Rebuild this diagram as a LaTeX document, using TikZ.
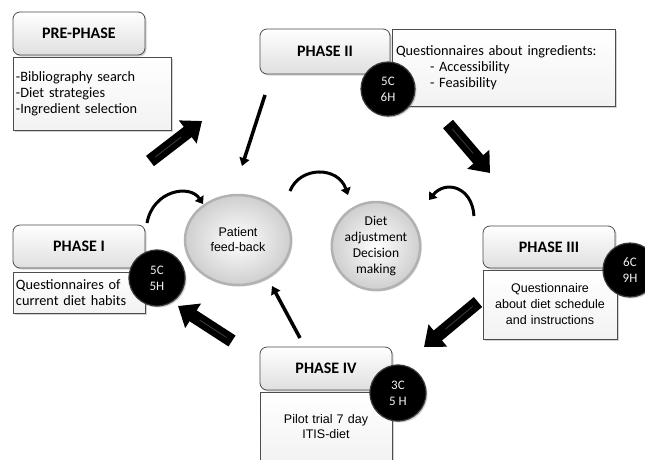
\documentclass[tikz,border=0pt]{standalone}
\usepackage{fontspec}
\setmainfont{Carlito}
\newfontfamily\arialf{Liberation Sans}
\usetikzlibrary{shapes.geometric,arrows.meta,shadows,calc}
\tikzset{
  header/.style={draw=gray!60!black, line width=0.8pt, rounded corners=7pt,
    top color=white, bottom color=gray!25, minimum width=132pt, minimum height=43pt,
    inner sep=0pt, font=\fontsize{16}{19}\selectfont\bfseries,
    drop shadow={opacity=0.35, shadow xshift=1.5pt, shadow yshift=-1.5pt}},
  bodybox/.style={draw=gray!60!black, line width=0.8pt, top color=white, bottom color=gray!10,
    inner sep=0pt, font=\fontsize{14.3}{16}\selectfont,
    drop shadow={opacity=0.35, shadow xshift=2pt, shadow yshift=-2pt}},
  badge/.style={circle, fill=black, draw=gray!45!black, line width=1.2pt, minimum size=54pt,
    inner sep=0pt, text=gray!10, align=center, font=\fontsize{13}{16}\selectfont,
    drop shadow={opacity=0.35, shadow xshift=1.5pt, shadow yshift=-1.5pt}},
  hub/.style={ellipse, draw=gray!60, line width=2.5pt, inner color=white, outer color=gray!38,
    inner sep=0pt, align=center,
    drop shadow={opacity=0.3, shadow xshift=1.5pt, shadow yshift=-1.5pt}},
  bigarrow/.style={line width=13pt, -{Triangle[length=18pt,width=28pt]}},
  shine/.style={gray!40!black, line width=1pt},
  thinarrow/.style={line width=3.5pt, -{Triangle[length=8pt,width=10pt]}},
  curvearrow/.style={line width=3pt, -{Triangle[length=7pt,width=10pt]}}
}
\begin{document}
\begin{tikzpicture}[x=1pt,y=-1pt]
\useasboundingbox (0,0) rectangle (645,459);
\clip (0,0) rectangle (645,459);
\fill[white] (0,0) rectangle (645,459);

% PRE-PHASE
\node[header] (preh) at (79,33.5) {PRE-PHASE};
\node[bodybox, minimum width=158pt, minimum height=73pt, text width=152pt, align=left] (preb) at (92,93.5)
  {-Bibliography search\\-Diet strategies\\-Ingredient selection};

% PHASE II
\node[header, minimum width=130pt, minimum height=45pt] (p2h) at (325,51.5) {PHASE II};
\node[bodybox, minimum width=223pt, minimum height=77pt, text width=215pt, align=left] (p2b) at (503.5,67.5)
  {Questionnaires about ingredients:\\\hspace*{34pt}- Accessibility\\\hspace*{34pt}- Feasibility};
\node[badge] (p2c) at (388,89) {5C\\6H};

% PHASE I
\node[header] (p1h) at (79,246.5) {PHASE I};
\node[bodybox, minimum width=132pt, minimum height=41pt, text width=126pt, align=left] (p1b) at (79,292.5)
  {Questionnaires of\\current diet habits};
\node[badge, minimum size=56pt] (p1c) at (157,278) {5C\\5H};

% PHASE III
\node[header, minimum height=42pt] (p3h) at (549,247) {PHASE III};
\node[bodybox, minimum width=134pt, minimum height=69pt, text width=130pt, align=center,
  font=\arialf\fontsize{12.5}{16}\selectfont] (p3b) at (550,304.5)
  {Questionnaire\\about diet schedule\\and instructions};
\node[badge] (p3c) at (630,270) {6C\\9H};

% PHASE IV
\node[header] (p4h) at (326,368.5) {PHASE IV};
\node[bodybox, minimum width=132pt, minimum height=70pt, text width=128pt, align=center,
  font=\arialf\fontsize{12.5}{15}\selectfont] (p4b) at (326,427)
  {Pilot trial 7 day\\ITIS-diet};
\node[badge, minimum size=56pt] (p4c) at (398,393) {3C\\5 H};

% hubs
\node[hub, minimum width=106pt, minimum height=90pt, font=\arialf\fontsize{12.5}{15}\selectfont] (pat) at (238,240)
  {Patient\\feed-back};
\node[hub, minimum width=86pt, minimum height=88pt, font=\fontsize{13.5}{16}\selectfont] (diet) at (376,246)
  {Diet\\adjustment\\Decision\\making};

% arrow end points
\coordinate (a1s) at (150,161); \coordinate (a1e) at (202,121);
\coordinate (a2s) at (448,124); \coordinate (a2e) at (490,173);
\coordinate (a3s) at (478,302); \coordinate (a3e) at (424,347);
\coordinate (a4s) at (232,341); \coordinate (a4e) at (178,306);
\coordinate (t1s) at (265,95);  \coordinate (t1e) at (242,166);
\coordinate (t2s) at (300,338); \coordinate (t2e) at (272,286);
\coordinate (c1s) at (147,223); \coordinate (c1e) at (203,204);
\coordinate (c2s) at (290,191); \coordinate (c2e) at (348,195);
\coordinate (c3s) at (474,216); \coordinate (c3e) at (429,200);

% big arrows
\draw[bigarrow] (a1s) -- (a1e);
\draw[bigarrow] (a2s) -- (a2e);
\draw[bigarrow] (a3s) -- (a3e);
\draw[bigarrow] (a4s) -- (a4e);
\draw[shine] ($(a1s)!0.1!(a1e)$) -- ($(a1s)!0.6!(a1e)$);
\draw[shine] ($(a2s)!0.1!(a2e)$) -- ($(a2s)!0.6!(a2e)$);
\draw[shine] ($(a3s)!0.1!(a3e)$) -- ($(a3s)!0.6!(a3e)$);
\draw[shine] ($(a4s)!0.1!(a4e)$) -- ($(a4s)!0.6!(a4e)$);

% thin arrows
\draw[thinarrow] (t1s) -- (t1e);
\draw[thinarrow] (t2s) -- (t2e);

% curved arrows
\draw[curvearrow] (c1s) .. controls (153,190) and (190,184) .. (c1e);
\draw[curvearrow] (c2s) .. controls (300,166) and (338,166) .. (c2e);
\draw[curvearrow] (c3s) .. controls (472,186) and (445,180) .. (c3e);
\end{tikzpicture}
\end{document}
